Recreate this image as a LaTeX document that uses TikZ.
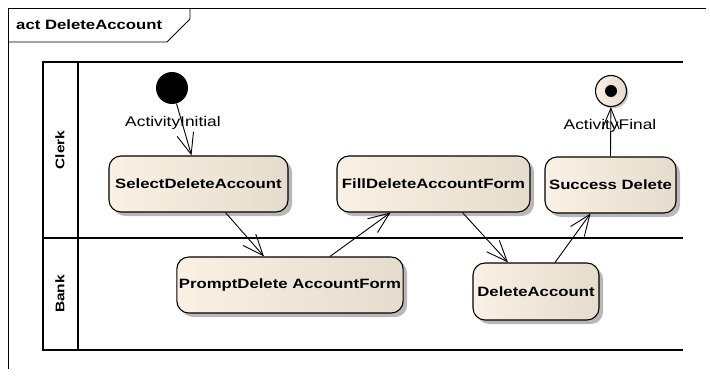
\documentclass[tikz,border=0pt]{standalone}
\usepackage{fontspec}
\setmainfont{Liberation Sans}[FakeStretch=1.24]
\usetikzlibrary{arrows.meta,shadows}
\definecolor{actL}{RGB}{250,241,228}
\definecolor{actR}{RGB}{229,220,206}
\tikzset{
  act/.style={draw=black, line width=1.1pt, rounded corners=12pt,
    left color=actL, right color=actR, minimum height=56pt, inner sep=2pt,
    font=\fontsize{13.5}{15}\selectfont\bfseries,
    drop shadow={shadow xshift=4pt, shadow yshift=-4pt, fill=black!28, opacity=1}},
  flow/.style={line width=0.9pt, -{Straight Barb[length=21pt,width=17pt,line width=0.9pt]}},
  lbl/.style={font=\fontsize{14}{16}\selectfont, inner sep=0pt},
  lanetitle/.style={rotate=90, font=\fontsize{12.5}{14}\selectfont\bfseries, inner sep=0pt},
  laneline/.style={line width=1.4pt},
  frameline/.style={line width=0.9pt}
}
\begin{document}
\begin{tikzpicture}[x=1pt,y=-1pt]
\useasboundingbox (0,0) rectangle (710,380);
% frame
\draw[frameline] (706,8) -- (8,8) -- (8,369);
\draw[frameline] (8,42) -- (167,42) -- (190,19) -- (190,8);
\node[anchor=west, inner sep=0pt, font=\fontsize{13.5}{15}\selectfont\bfseries] (title) at (16,25) {act DeleteAccount};
% swimlanes
\draw[laneline] (683,62) -- (43,62) -- (43,350) -- (683,350);
\draw[laneline] (43,238) -- (683,238);
\draw[laneline] (78,62) -- (78,350);
\node[lanetitle] (clerk) at (60,150) {Clerk};
\node[lanetitle] (bank) at (60,294) {Bank};
% nodes
\node[circle, fill=black, minimum size=32pt, inner sep=0pt] (init) at (172,88) {};
\node[circle, draw=black, line width=1.1pt, left color=actL, right color=actR, minimum size=31pt, inner sep=0pt,
      drop shadow={shadow xshift=2pt, shadow yshift=-2pt, fill=black!20, opacity=1}] (fin) at (611,91) {};
\node[circle, fill=black, minimum size=12pt, inner sep=0pt] (finDot) at (fin.center) {};
\node[act, minimum width=179pt] (sel) at (198.5,184) {SelectDeleteAccount};
\node[act, minimum width=193pt] (fill) at (433.5,184) {FillDeleteAccountForm};
\node[act, minimum width=131pt] (succ) at (610.5,185) {Success Delete};
\node[act, minimum width=226pt] (prompt) at (290,285) {PromptDelete AccountForm};
\node[act, minimum width=126pt, minimum height=57pt] (del) at (536,291.5) {DeleteAccount};
% labels
\node[lbl] (initLbl) at (173,123) {ActivityInitial};
\node[lbl] (finLbl) at (610,126) {ActivityFinal};
% flows
\draw[flow] (init) -- ([xshift=-7pt]sel.north);
\draw[flow] ([xshift=27pt]sel.south) -- ([xshift=-26pt]prompt.north);
\draw[flow] ([xshift=40pt]prompt.north) -- ([xshift=-43pt]fill.south);
\draw[flow] ([xshift=29pt]fill.south) -- ([xshift=-28pt]del.north);
\draw[flow] ([xshift=19pt]del.north) -- ([xshift=-20pt]succ.south);
\draw[flow] (succ.north) -- (fin);
\end{tikzpicture}
\end{document}
